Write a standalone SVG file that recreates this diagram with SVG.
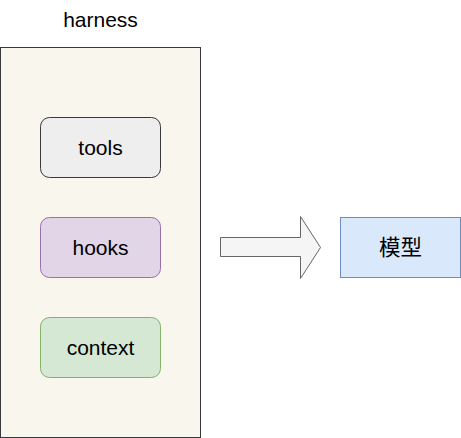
<svg xmlns="http://www.w3.org/2000/svg" width="461" height="438" viewBox="0 0 461 438">
<style>
text{font-family:"Liberation Sans",Arial,Helvetica,sans-serif;font-size:21px;fill:#000;text-anchor:middle}
.cjk{font-family:"Liberation Sans","Noto Sans CJK SC",sans-serif;font-size:21.5px}
.box{stroke-width:1}
</style>
<rect width="461" height="438" fill="#ffffff"/>
<g id="harness">
<rect x="0.5" y="47.5" width="200" height="390" fill="#f9f7ed" stroke="#36393d"/>
<text x="100.5" y="27">harness</text>
</g>
<g id="tools">
<rect class="box" x="40.5" y="117.5" width="120" height="60" rx="9" fill="#eeeeee" stroke="#36393d"/>
<text x="100.5" y="155">tools</text>
</g>
<g id="hooks">
<rect class="box" x="40.5" y="217.5" width="120" height="60" rx="9" fill="#e1d5e7" stroke="#9673a6"/>
<text x="100.5" y="255">hooks</text>
</g>
<g id="context">
<rect class="box" x="40.5" y="317.5" width="120" height="60" rx="9" fill="#d5e8d4" stroke="#82b366"/>
<text x="100.5" y="355">context</text>
</g>
<g id="connectors">
<path d="M220.5 237.5 L300.5 237.5 L300.5 216.5 L320.5 247.5 L300.5 278.5 L300.5 256.5 L220.5 256.5 Z" fill="#f5f5f5" stroke="#666666"/>
</g>
<g id="model">
<rect class="box" x="340.5" y="217.5" width="120" height="60" fill="#dae8fc" stroke="#6c8ebf"/>
<text class="cjk" x="400.5" y="255">模型</text>
</g>
</svg>
